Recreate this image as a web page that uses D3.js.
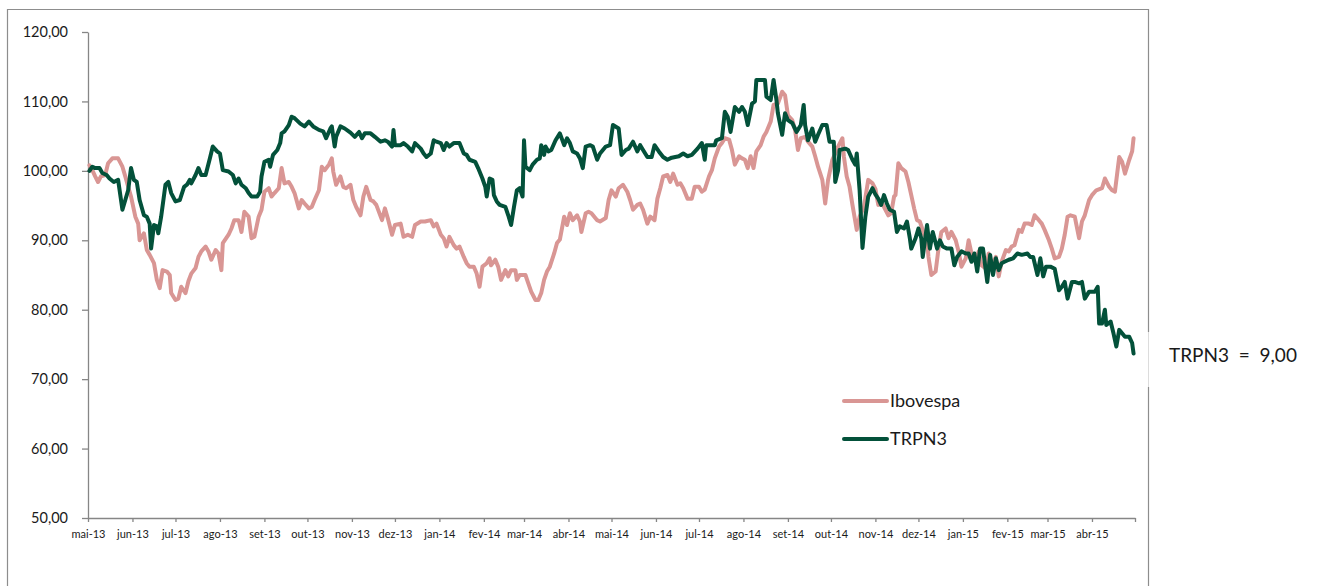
<!DOCTYPE html>
<html><head><meta charset="utf-8">
<script src="https://cdn.jsdelivr.net/npm/d3@7"></script>
<style>
body{margin:0;background:#fff;}
svg{display:block;font-family:Lato,"Liberation Sans",sans-serif;}
</style>
</head><body>
<svg id="chart" width="1318" height="586"></svg>
<script>
// ---------- DATA ----------
const seriesNames = ["Ibovespa", "TRPN3"];
const seriesColors = ["#d99694", "#03513a"];
const yTicks = [50, 60, 70, 80, 90, 100, 110, 120];
const monthLabels = ["jan","fev","mar","abr","mai","jun","jul","ago","set","out","nov","dez"];
const annotationText = "TRPN3  =  9,00";

const ibovDates = ["2013-05-02","2013-05-04","2013-05-06","2013-05-08","2013-05-10","2013-05-13","2013-05-15","2013-05-18","2013-05-22","2013-05-25","2013-05-27","2013-05-29","2013-05-31","2013-06-03","2013-06-05","2013-06-06","2013-06-09","2013-06-11","2013-06-13","2013-06-16","2013-06-18","2013-06-20","2013-06-22","2013-06-25","2013-06-27","2013-06-28","2013-07-01","2013-07-03","2013-07-05","2013-07-08","2013-07-10","2013-07-12","2013-07-15","2013-07-17","2013-07-19","2013-07-22","2013-07-24","2013-07-26","2013-07-29","2013-07-31","2013-08-02","2013-08-03","2013-08-07","2013-08-09","2013-08-11","2013-08-14","2013-08-16","2013-08-18","2013-08-21","2013-08-23","2013-08-25","2013-08-28","2013-08-30","2013-09-01","2013-09-04","2013-09-06","2013-09-08","2013-09-11","2013-09-13","2013-09-15","2013-09-18","2013-09-20","2013-09-22","2013-09-25","2013-09-27","2013-09-29","2013-10-02","2013-10-04","2013-10-06","2013-10-09","2013-10-11","2013-10-13","2013-10-16","2013-10-18","2013-10-19","2013-10-21","2013-10-24","2013-10-26","2013-10-28","2013-10-31","2013-11-02","2013-11-04","2013-11-07","2013-11-09","2013-11-11","2013-11-14","2013-11-16","2013-11-18","2013-11-22","2013-11-24","2013-11-26","2013-11-29","2013-12-01","2013-12-05","2013-12-07","2013-12-10","2013-12-13","2013-12-15","2013-12-19","2013-12-22","2013-12-26","2013-12-28","2013-12-30","2014-01-02","2014-01-04","2014-01-06","2014-01-08","2014-01-11","2014-01-13","2014-01-15","2014-01-18","2014-01-20","2014-01-22","2014-01-25","2014-01-27","2014-01-29","2014-01-31","2014-02-03","2014-02-05","2014-02-06","2014-02-09","2014-02-11","2014-02-13","2014-02-16","2014-02-18","2014-02-20","2014-02-23","2014-02-24","2014-02-26","2014-03-02","2014-03-04","2014-03-06","2014-03-09","2014-03-11","2014-03-13","2014-03-15","2014-03-17","2014-03-19","2014-03-22","2014-03-24","2014-03-26","2014-03-29","2014-03-31","2014-04-02","2014-04-04","2014-04-07","2014-04-09","2014-04-10","2014-04-13","2014-04-15","2014-04-17","2014-04-21","2014-04-23","2014-04-27","2014-04-29","2014-05-01","2014-05-04","2014-05-06","2014-05-09","2014-05-12","2014-05-14","2014-05-16","2014-05-19","2014-05-21","2014-05-23","2014-05-26","2014-05-28","2014-05-31","2014-06-02","2014-06-04","2014-06-06","2014-06-09","2014-06-11","2014-06-13","2014-06-16","2014-06-18","2014-06-20","2014-06-23","2014-06-26","2014-06-28","2014-07-01","2014-07-03","2014-07-05","2014-07-08","2014-07-10","2014-07-12","2014-07-15","2014-07-17","2014-07-19","2014-07-22","2014-07-24","2014-07-26","2014-07-29","2014-07-31","2014-08-02","2014-08-04","2014-08-06","2014-08-08","2014-08-10","2014-08-13","2014-08-15","2014-08-17","2014-08-20","2014-08-22","2014-08-25","2014-08-28","2014-08-30","2014-09-01","2014-09-04","2014-09-06","2014-09-08","2014-09-10","2014-09-13","2014-09-15","2014-09-18","2014-09-20","2014-09-22","2014-09-25","2014-09-27","2014-09-29","2014-10-02","2014-10-04","2014-10-06","2014-10-09","2014-10-10","2014-10-12","2014-10-14","2014-10-16","2014-10-19","2014-10-21","2014-10-24","2014-10-27","2014-10-30","2014-11-01","2014-11-03","2014-11-05","2014-11-08","2014-11-10","2014-11-12","2014-11-14","2014-11-15","2014-11-17","2014-11-19","2014-11-22","2014-11-24","2014-11-26","2014-11-28","2014-11-30","2014-12-02","2014-12-05","2014-12-07","2014-12-08","2014-12-10","2014-12-13","2014-12-15","2014-12-17","2014-12-20","2014-12-22","2014-12-24","2014-12-27","2014-12-29","2014-12-31","2015-01-03","2015-01-05","2015-01-07","2015-01-10","2015-01-12","2015-01-14","2015-01-17","2015-01-19","2015-01-21","2015-01-24","2015-01-26","2015-01-28","2015-01-31","2015-02-02","2015-02-04","2015-02-06","2015-02-09","2015-02-11","2015-02-13","2015-02-16","2015-02-18","2015-02-20","2015-02-23","2015-02-25","2015-02-27","2015-03-02","2015-03-04","2015-03-06","2015-03-09","2015-03-11","2015-03-13","2015-03-15","2015-03-17","2015-03-20","2015-03-23","2015-03-25","2015-03-27","2015-03-30","2015-04-01","2015-04-04","2015-04-08","2015-04-10","2015-04-13","2015-04-15","2015-04-17","2015-04-20","2015-04-22","2015-04-24","2015-04-27","2015-04-29","2015-04-30"];
const ibovValues = [100.8,100.1,99.2,98.4,99.2,99.4,101.1,101.8,101.8,100.6,99.2,97.7,96.3,93.4,92.4,90.0,91.0,88.6,87.9,86.7,84.3,83.1,85.7,85.5,85.0,82.4,81.4,81.6,83.3,82.4,84.1,85.2,86.0,87.6,88.4,89.1,88.4,87.2,88.6,88.1,85.7,89.6,90.8,91.7,92.9,92.9,91.2,94.1,93.4,90.3,90.5,93.4,94.4,97.0,97.5,96.3,96.8,97.5,100.4,98.2,98.4,97.7,96.8,94.6,95.8,95.3,94.6,94.8,95.8,97.2,100.6,100.1,100.9,101.8,99.9,98.0,99.2,97.7,97.5,98.0,95.8,94.8,93.6,96.3,97.7,95.8,95.6,95.1,92.9,94.6,93.2,90.8,92.2,92.4,90.5,90.8,90.5,92.2,92.7,92.7,92.9,92.0,92.4,90.8,90.3,89.1,90.5,89.3,88.8,89.1,87.6,86.7,86.2,86.2,85.2,83.3,86.2,86.7,87.4,86.4,87.2,86.2,84.3,85.7,84.8,85.7,85.7,84.3,85.0,85.0,83.8,82.6,81.4,81.4,82.4,84.3,85.5,86.2,88.1,89.6,90.1,93.4,92.2,93.9,92.9,93.6,92.7,91.2,93.9,94.1,93.9,92.9,92.7,93.2,95.8,97.2,96.3,97.5,98.0,97.0,95.8,94.4,95.1,95.3,94.4,92.4,93.4,92.9,96.0,97.5,99.2,99.4,98.4,99.6,98.0,98.2,97.5,96.0,96.0,97.7,97.7,97.0,97.3,99.2,100.1,101.8,103.5,104.0,104.7,104.5,103.0,100.9,102.1,101.8,101.6,100.4,102.1,100.4,102.8,103.7,104.9,105.6,107.1,109.5,109.7,111.4,110.9,108.0,107.3,105.9,103.0,104.7,104.9,104.2,103.5,102.1,100.6,98.7,95.3,98.7,101.6,102.5,103.5,104.7,102.1,99.2,97.7,95.1,91.5,93.4,94.8,98.7,98.2,97.4,95.1,95.6,94.4,93.6,93.9,96.3,96.5,101.1,100.4,99.9,98.4,96.5,94.6,92.9,92.7,90.8,90.3,87.6,85.0,85.5,88.8,91.2,91.7,90.3,91.2,90.0,88.4,86.2,87.4,90.0,88.1,86.9,88.4,86.4,85.9,88.1,86.4,87.6,84.8,86.9,88.6,88.4,89.1,89.3,91.5,91.2,92.4,92.4,92.2,93.6,92.9,92.4,91.5,90.0,88.8,87.4,87.6,88.8,90.8,93.4,93.6,93.4,90.3,92.7,93.6,95.8,96.5,97.2,97.5,98.9,97.7,97.2,97.0,102.0,101.3,99.6,101.6,102.8,104.7];

const trpnDates = ["2013-05-02","2013-05-04","2013-05-06","2013-05-09","2013-05-11","2013-05-14","2013-05-16","2013-05-19","2013-05-22","2013-05-25","2013-05-27","2013-05-29","2013-05-31","2013-06-02","2013-06-04","2013-06-06","2013-06-09","2013-06-11","2013-06-13","2013-06-14","2013-06-16","2013-06-18","2013-06-19","2013-06-21","2013-06-24","2013-06-26","2013-06-28","2013-07-01","2013-07-04","2013-07-07","2013-07-09","2013-07-11","2013-07-12","2013-07-15","2013-07-17","2013-07-19","2013-07-22","2013-07-25","2013-07-27","2013-07-30","2013-08-01","2013-08-03","2013-08-07","2013-08-10","2013-08-12","2013-08-14","2013-08-16","2013-08-19","2013-08-21","2013-08-23","2013-08-27","2013-08-29","2013-08-30","2013-09-01","2013-09-04","2013-09-05","2013-09-07","2013-09-10","2013-09-12","2013-09-13","2013-09-15","2013-09-18","2013-09-20","2013-09-22","2013-09-26","2013-09-29","2013-10-02","2013-10-05","2013-10-09","2013-10-12","2013-10-14","2013-10-17","2013-10-18","2013-10-20","2013-10-21","2013-10-24","2013-10-27","2013-10-31","2013-11-03","2013-11-06","2013-11-08","2013-11-10","2013-11-14","2013-11-17","2013-11-21","2013-11-24","2013-11-26","2013-11-29","2013-11-30","2013-12-01","2013-12-05","2013-12-07","2013-12-10","2013-12-13","2013-12-15","2013-12-19","2013-12-21","2013-12-23","2013-12-26","2013-12-28","2013-12-30","2014-01-02","2014-01-04","2014-01-06","2014-01-08","2014-01-11","2014-01-15","2014-01-18","2014-01-20","2014-01-22","2014-01-26","2014-01-28","2014-01-31","2014-02-02","2014-02-03","2014-02-05","2014-02-07","2014-02-08","2014-02-10","2014-02-12","2014-02-16","2014-02-18","2014-02-20","2014-02-22","2014-02-24","2014-02-26","2014-02-28","2014-03-01","2014-03-02","2014-03-05","2014-03-07","2014-03-10","2014-03-12","2014-03-13","2014-03-15","2014-03-16","2014-03-18","2014-03-20","2014-03-23","2014-03-26","2014-03-29","2014-03-31","2014-04-02","2014-04-04","2014-04-07","2014-04-09","2014-04-11","2014-04-13","2014-04-16","2014-04-18","2014-04-21","2014-04-23","2014-04-27","2014-04-30","2014-05-02","2014-05-06","2014-05-08","2014-05-11","2014-05-13","2014-05-16","2014-05-19","2014-05-21","2014-05-23","2014-05-26","2014-05-29","2014-05-31","2014-06-03","2014-06-06","2014-06-09","2014-06-12","2014-06-17","2014-06-20","2014-06-23","2014-06-26","2014-06-30","2014-07-03","2014-07-05","2014-07-06","2014-07-10","2014-07-12","2014-07-13","2014-07-17","2014-07-19","2014-07-21","2014-07-23","2014-07-26","2014-07-29","2014-07-31","2014-08-02","2014-08-04","2014-08-07","2014-08-09","2014-08-10","2014-08-16","2014-08-17","2014-08-20","2014-08-22","2014-08-24","2014-08-25","2014-08-28","2014-08-30","2014-09-01","2014-09-04","2014-09-07","2014-09-10","2014-09-12","2014-09-13","2014-09-15","2014-09-18","2014-09-20","2014-09-22","2014-09-25","2014-09-28","2014-09-30","2014-10-03","2014-10-04","2014-10-06","2014-10-07","2014-10-11","2014-10-13","2014-10-16","2014-10-18","2014-10-19","2014-10-21","2014-10-23","2014-10-25","2014-10-27","2014-10-30","2014-11-01","2014-11-03","2014-11-05","2014-11-07","2014-11-09","2014-11-11","2014-11-14","2014-11-16","2014-11-18","2014-11-21","2014-11-23","2014-11-25","2014-11-26","2014-11-29","2014-12-01","2014-12-03","2014-12-04","2014-12-07","2014-12-09","2014-12-11","2014-12-14","2014-12-16","2014-12-18","2014-12-21","2014-12-24","2014-12-26","2014-12-28","2014-12-31","2015-01-03","2015-01-05","2015-01-07","2015-01-09","2015-01-11","2015-01-13","2015-01-15","2015-01-18","2015-01-20","2015-01-22","2015-01-24","2015-01-26","2015-01-28","2015-01-30","2015-02-02","2015-02-05","2015-02-08","2015-02-11","2015-02-15","2015-02-17","2015-02-19","2015-02-22","2015-02-24","2015-02-26","2015-02-28","2015-03-03","2015-03-06","2015-03-09","2015-03-11","2015-03-13","2015-03-15","2015-03-18","2015-03-20","2015-03-23","2015-03-25","2015-03-27","2015-03-30","2015-04-01","2015-04-03","2015-04-05","2015-04-06","2015-04-08","2015-04-10","2015-04-11","2015-04-14","2015-04-16","2015-04-18","2015-04-20","2015-04-22","2015-04-24","2015-04-27","2015-04-29","2015-04-30"];
const trpnValues = [100.0,100.6,100.4,100.4,99.7,99.4,98.9,98.4,98.7,94.4,95.8,97.2,100.4,98.7,98.4,95.8,93.6,93.4,92.4,88.8,92.2,92.0,91.0,93.4,98.0,98.4,96.8,95.6,95.8,97.7,98.0,98.7,98.2,99.4,100.4,99.4,99.4,101.8,103.5,102.8,102.5,100.1,99.9,99.4,98.2,98.9,98.0,97.5,96.8,96.3,96.3,97.0,99.2,101.3,101.6,100.6,102.3,103.0,104.0,105.4,105.7,106.6,107.8,107.6,106.8,106.4,107.1,106.4,105.9,105.7,104.7,106.1,106.4,103.5,104.9,106.4,106.1,105.5,104.9,105.6,104.7,105.4,105.4,104.9,104.2,104.4,104.2,103.5,105.9,103.7,103.7,104.0,103.5,102.8,104.0,103.2,102.5,102.0,102.5,104.4,104.2,104.0,103.0,104.0,103.5,104.0,104.0,102.5,102.3,101.6,101.3,100.4,98.9,97.7,96.3,98.9,98.7,96.5,95.6,95.1,94.8,93.6,92.2,94.8,97.2,97.5,96.3,104.4,100.6,100.1,100.9,101.6,101.8,103.7,102.3,103.5,102.8,103.0,104.4,105.4,103.7,104.7,104.0,102.8,102.5,101.8,100.4,103.5,103.7,103.5,101.6,102.5,103.5,103.7,106.6,106.1,102.3,103.0,103.2,104.2,102.8,103.7,103.0,102.0,102.0,103.7,102.8,102.0,101.6,101.9,102.1,102.5,102.1,102.3,103.2,104.0,101.6,103.7,103.7,103.7,104.4,104.7,108.5,107.8,105.6,109.2,108.5,109.2,108.5,106.6,109.7,110.0,113.1,113.1,110.7,110.2,113.1,110.2,108.3,105.2,108.3,107.3,106.9,105.6,106.6,109.5,106.6,104.4,106.1,104.2,105.2,106.6,106.6,104.2,104.2,98.4,100.1,103.0,103.2,103.0,101.6,100.9,102.5,97.2,88.9,93.4,96.3,97.5,96.6,96.0,95.1,96.5,95.3,94.4,94.1,91.2,92.0,91.7,92.7,90.3,88.8,90.3,91.7,90.3,87.6,92.2,88.8,91.2,88.8,90.0,89.1,88.8,88.8,86.4,87.6,88.4,88.1,88.1,86.9,88.1,85.5,88.8,88.8,84.0,87.9,85.0,87.4,85.7,86.7,86.9,87.2,87.4,88.1,87.9,88.1,87.6,87.6,85.0,87.4,84.8,86.2,86.2,85.9,82.8,83.3,84.0,81.6,84.0,84.0,83.8,84.0,81.6,82.6,82.6,82.6,83.3,78.0,78.0,80.0,77.8,78.3,76.6,74.7,77.1,76.6,76.1,76.1,75.2,73.7];

// ---------- CHART ----------
const svg = d3.select("#chart");
const parse = d3.utcParse("%Y-%m-%d");
const startDate = parse("2013-05-01"), endDate = parse("2015-05-01");

const x = d3.scaleUtc().domain([startDate, endDate]).range([88, 1135]);
const y = d3.scaleLinear().domain([50, 120]).range([518, 32]);

// outer frame
const frameColor = "#8d8d8d";
svg.append("path")
  .attr("d", "M7.5,600V9.5H1148.5V332")
  .attr("fill", "none").attr("stroke", frameColor).attr("stroke-width", 1.2);
svg.append("path")
  .attr("d", "M1148.5,332V387")
  .attr("fill", "none").attr("stroke", "#dcdcdc").attr("stroke-width", 1);
svg.append("path")
  .attr("d", "M1148.5,387V600")
  .attr("fill", "none").attr("stroke", frameColor).attr("stroke-width", 1.2);

const axisColor = "#868686";
const textColor = "#1a1a1a";

// Y axis
const yAxis = d3.axisLeft(y).tickValues(yTicks).tickSize(6).tickSizeOuter(0).tickPadding(14)
  .tickFormat(d => d3.format(".2f")(d).replace(".", ","));
const gy = svg.append("g").attr("transform", "translate(88,0)").call(yAxis);
gy.select(".domain").attr("stroke", axisColor).attr("stroke-width", 1.3);
gy.selectAll(".tick line").attr("stroke", axisColor).attr("stroke-width", 1.3);
gy.selectAll(".tick text").attr("fill", textColor).attr("font-size", "14.5px")
  .attr("font-family", "Lato, sans-serif");

// X axis
const xTickDates = d3.utcMonth.range(startDate, endDate).concat([endDate]);
const xAxis = d3.axisBottom(x).tickValues(xTickDates).tickSize(4).tickSizeOuter(0).tickPadding(8)
  .tickFormat(d => (+d === +endDate) ? "" : monthLabels[d.getUTCMonth()] + "-" + d3.utcFormat("%y")(d));
const gx = svg.append("g").attr("transform", "translate(0,518)").call(xAxis);
gx.select(".domain").attr("stroke", axisColor).attr("stroke-width", 1.3);
gx.selectAll(".tick line").attr("stroke", axisColor).attr("stroke-width", 1.3);
gx.selectAll(".tick text").attr("fill", textColor).attr("font-size", "11px")
  .attr("font-family", "Lato, sans-serif");

// series
const seriesData = [
  ibovDates.map((d, i) => ({date: parse(d), value: ibovValues[i]})),
  trpnDates.map((d, i) => ({date: parse(d), value: trpnValues[i]}))
];
const line = d3.line().x(d => x(d.date)).y(d => y(d.value));
svg.append("g").selectAll("path").data(seriesData).join("path")
  .attr("d", line)
  .attr("fill", "none")
  .attr("stroke", (d, i) => seriesColors[i])
  .attr("stroke-width", 4)
  .attr("stroke-linejoin", "round")
  .attr("stroke-linecap", "round");

// legend
const legend = svg.append("g").attr("transform", "translate(844,401)");
const li = legend.selectAll("g").data(seriesNames).join("g")
  .attr("transform", (d, i) => `translate(0,${i * 38})`);
li.append("line").attr("x1", 0).attr("x2", 43).attr("y1", 0).attr("y2", 0)
  .attr("stroke", (d, i) => seriesColors[i]).attr("stroke-width", 4).attr("stroke-linecap", "round");
li.append("text").attr("x", 46).attr("y", 6).text(d => d)
  .attr("font-size", "18px").attr("fill", textColor).attr("font-family", "Lato, sans-serif");

// annotation
svg.append("text").attr("x", 1169).attr("y", 362)
  .attr("xml:space", "preserve").style("white-space", "pre")
  .attr("font-size", "19px").attr("fill", textColor).attr("font-family", "Lato, sans-serif")
  .text(annotationText);
</script>
</body></html>
